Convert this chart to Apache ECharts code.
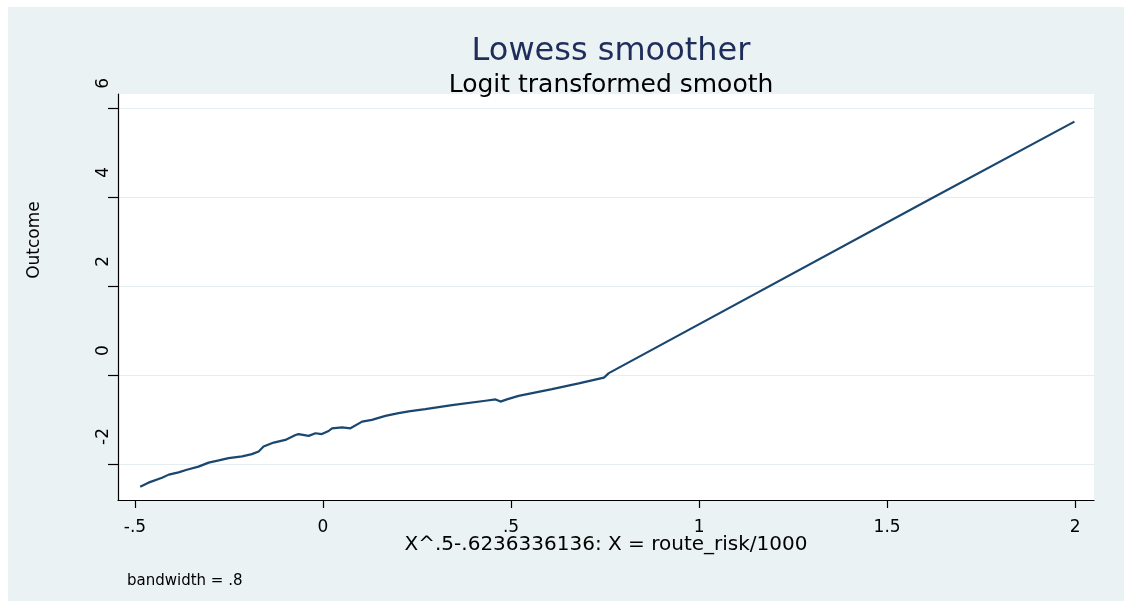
<!DOCTYPE html>
<html><head><meta charset="utf-8">
<script src="https://cdn.jsdelivr.net/npm/echarts@6/dist/echarts.min.js"></script>
<style>
html,body{margin:0;padding:0;background:#fff;width:1124px;height:601px;overflow:hidden}
#c{position:absolute;left:8px;top:7px;width:1116px;height:594px}
</style>
</head><body><div id="c"></div>
<script>
// lowess smooth (x, y)
const xValues = [-0.486,-0.464,-0.428,-0.410,-0.384,-0.362,-0.331,-0.304,-0.277,-0.251,-0.215,-0.189,-0.171,-0.158,-0.131,-0.100,-0.073,-0.065,-0.038,-0.020,-0.003,0.015,0.024,0.051,0.073,0.104,0.130,0.166,0.201,0.228,0.272,0.343,0.432,0.459,0.472,0.489,0.520,0.609,0.680,0.747,0.760,1.615,1.998];
const yValues = [-2.51,-2.42,-2.31,-2.24,-2.19,-2.13,-2.06,-1.97,-1.92,-1.87,-1.83,-1.78,-1.72,-1.61,-1.52,-1.46,-1.35,-1.33,-1.37,-1.31,-1.33,-1.26,-1.20,-1.18,-1.20,-1.05,-1.01,-0.92,-0.86,-0.82,-0.77,-0.68,-0.58,-0.55,-0.60,-0.55,-0.47,-0.32,-0.19,-0.06,0.04,3.95,5.69];
const xTickValues = [-0.5,0,0.5,1,1.5,2];
const xTickLabels = ['-.5','0','.5','1','1.5','2'];
const yTickValues = [-2,0,2,4,6];
const yTickLabels = ['-2','0','2','4','6'];
const titleText = 'Lowess smoother';
const subtitleText = 'Logit transformed smooth';
const noteText = 'bandwidth = .8';
const xName = 'X^.5-.6236336136: X = route_risk/1000';
const yName = 'Outcome';

const FONT = 'DejaVu Sans';
const points = xValues.map((x, i) => [x, yValues[i]]);
const fmt = (vals, labels) => v => {
  const i = vals.findIndex(t => Math.abs(t - v) < 1e-9);
  return i >= 0 ? labels[i] : '';
};

const chart = echarts.init(document.getElementById('c'), null, {renderer: 'canvas'});
chart.setOption({
  animation: false,
  backgroundColor: '#EAF2F3',
  title: [
    {text: titleText, left: 598, top: 24, textAlign: 'center',
     textStyle: {fontFamily: FONT, fontSize: 32, fontWeight: 'normal', color: '#1f2d5c'}},
    {text: subtitleText, left: 598, top: 61, textAlign: 'center',
     textStyle: {fontFamily: FONT, fontSize: 25, fontWeight: 'normal', color: '#000'}},
    {text: noteText, left: 114, top: 562,
     textStyle: {fontFamily: FONT, fontSize: 15, fontWeight: 'normal', color: '#000'}}
  ],
  grid: {left: 110, top: 87, width: 976, height: 406, show: true,
         backgroundColor: '#fff', borderWidth: 0, containLabel: false},
  xAxis: {
    type: 'value', min: -0.545, max: 2.05,
    name: xName, nameLocation: 'middle', nameGap: 35, nameMoveOverlap: false,
    nameTextStyle: {fontFamily: FONT, fontSize: 20, color: '#000'},
    axisLine: {show: true, onZero: false, lineStyle: {color: '#000', width: 1.2}},
    axisTick: {show: true, length: 8, customValues: xTickValues, lineStyle: {color: '#000', width: 1.2}},
    axisLabel: {customValues: xTickValues, formatter: fmt(xTickValues, xTickLabels),
      margin: 19, fontFamily: FONT, fontSize: 17, color: '#000'},
    splitLine: {show: false}
  },
  yAxis: {
    type: 'value', min: -2.81, max: 6.31,
    name: yName, nameLocation: 'middle', nameGap: 75, nameMoveOverlap: false,
    nameTextStyle: {fontFamily: FONT, fontSize: 17, color: '#000', padding: [0, 0, 0, 114]},
    axisLine: {show: true, onZero: false, lineStyle: {color: '#000', width: 1.2}},
    axisTick: {show: true, length: 10, customValues: yTickValues, lineStyle: {color: '#000', width: 1.2}},
    axisLabel: {customValues: yTickValues, formatter: fmt(yTickValues, yTickLabels),
      rotate: 90, align: 'left', verticalAlign: 'bottom', padding: [0, 0, 0, 19],
      margin: 6, fontFamily: FONT, fontSize: 17, color: '#000'},
    splitLine: {show: true, lineStyle: {color: '#E4EDEF', width: 1}}
  },
  series: [{
    type: 'line', data: points, showSymbol: false, symbol: 'none',
    lineStyle: {color: '#1a476f', width: 2.2}, z: 3
  }]
});
</script>
</body></html>
